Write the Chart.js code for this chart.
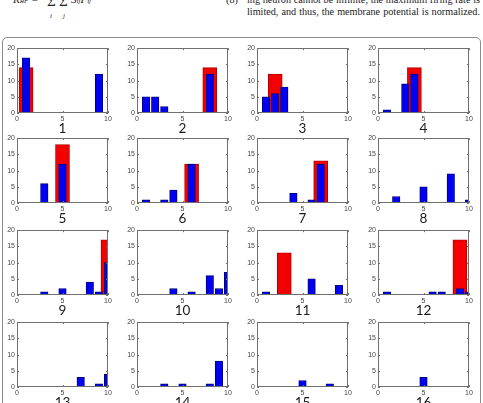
<!DOCTYPE html>
<html>
<head>
<meta charset="utf-8">
<script src="https://cdn.jsdelivr.net/npm/chart.js@4.4.0/dist/chart.umd.min.js"></script>
<style>
  body { margin:0; width:483px; height:403px; overflow:hidden; background:#fff; position:relative; }
  .txt { position:absolute; font-family:"Liberation Serif", serif; color:#222; white-space:nowrap; line-height:11px; }
  .col { position:absolute; left:247px; width:233px; font-family:"Liberation Serif", serif; font-size:10.2px; line-height:11px; color:#222; text-align:justify; text-align-last:justify; }
  .frame { position:absolute; left:2px; top:37px; width:477px; height:400px; border:1px solid #8c8c8c; border-radius:5px; }
  canvas { position:absolute; }
  .num { position:absolute; width:60px; text-align:center; font-family:Lato, sans-serif; font-size:13.5px; line-height:14px; color:#1a1a1a; }
</style>
</head>
<body>
<div class="txt" style="left:13px;top:-6px;font-size:11px;font-style:italic">R<span style="font-size:7px">RF</span> =</div>
<div class="txt" style="left:47px;top:-6px;font-size:15px;line-height:15px">&Sigma;</div>
<div class="txt" style="left:59px;top:-6px;font-size:15px;line-height:15px">&Sigma;</div>
<div class="txt" style="left:50px;top:11px;font-size:7px;font-style:italic">i</div>
<div class="txt" style="left:63px;top:11px;font-size:7px;font-style:italic">j</div>
<div class="txt" style="left:71px;top:-6px;font-size:11px;font-style:italic">S<span style="font-size:7px">ij</span>F<span style="font-size:7px">ij</span></div>
<div class="txt" style="left:226px;top:-6px;font-size:10.2px">(8)</div>
<div class="col" style="top:-6px">ing neuron cannot be infinite, the maximum firing rate is</div>
<div class="col" style="top:6px">limited, and thus, the membrane potential is normalized.</div>
<div class="frame"></div>
<div id="panels"></div>
<script>
// histogram bins shared by every panel
var bins = [1, 2, 3, 4, 5, 6, 7, 8, 9, 10];
var xTicks = [0, 5, 10];
var yTicks = [0, 5, 10, 15, 20];
var panelNames = ['1','2','3','4','5','6','7','8','9','10','11','12','13','14','15','16'];

// blue counts per bin (bins 1..10)
var blueCounts = [
  [17,0,0,0,0,0,0,0,12,0],
  [5,5,2,0,0,0,0,12,0,0],
  [5,6,8,0,0,0,0,0,0,0],
  [1,0,9,12,0,0,0,0,0,0],
  [0,0,6,0,12,0,0,0,0,0],
  [1,0,1,4,0,12,0,0,0,0],
  [0,0,0,3,0,1,12,0,0,0],
  [0,2,0,0,5,0,0,9,0,1],
  [0,0,1,0,2,0,0,4,1,10],
  [0,0,0,2,0,1,0,6,2,7],
  [1,0,0,0,0,5,0,0,3,0],
  [1,0,0,0,0,1,1,0,2,1],
  [0,0,0,0,0,0,3,0,1,4],
  [0,0,1,0,1,0,0,1,8,0],
  [0,0,0,0,2,0,0,1,0,0],
  [0,0,0,0,3,0,0,0,0,0]
];
// red counts per bin (bins 1..10)
var redCounts = [
  [14,0,0,0,0,0,0,0,0,0],
  [0,0,0,0,0,0,0,14,0,0],
  [0,12,0,0,0,0,0,0,0,0],
  [0,0,0,14,0,0,0,0,0,0],
  [0,0,0,0,18,0,0,0,0,0],
  [0,0,0,0,0,12,0,0,0,0],
  [0,0,0,0,0,0,13,0,0,0],
  [0,0,0,0,0,0,0,0,0,0],
  [0,0,0,0,0,0,0,0,0,17],
  [0,0,0,0,0,0,0,0,0,0],
  [0,0,13,0,0,0,0,0,0,0],
  [0,0,0,0,0,0,0,0,17,0],
  [0,0,0,0,0,0,0,0,0,0],
  [0,0,0,0,0,0,0,0,0,0],
  [0,0,0,0,0,0,0,0,0,0],
  [0,0,0,0,0,0,0,0,0,0]
];

var colLeft = [17, 137, 257, 378];
var rowTop = [47, 137, 229, 321];
var axW = 91, axH = 66;
var padL = 17, padT = 5, padR = 7, padB = 12;

function toPoints(counts) {
  var pts = [];
  bins.forEach(function (b, i) { if (counts[i] > 0) pts.push({ x: b, y: counts[i] }); });
  return pts;
}

// matlab style box with inward ticks
var boxPlugin = {
  id: 'box',
  afterDatasetsDraw: function (chart) {
    var a = chart.chartArea, ctx = chart.ctx;
    var xs = chart.scales.x, ys = chart.scales.y;
    ctx.save();
    ctx.strokeStyle = '#707070';
    ctx.lineWidth = 1;
    ctx.strokeRect(Math.round(a.left) + 0.5, Math.round(a.top) + 0.5, Math.round(a.right - a.left) - 1, Math.round(a.bottom - a.top) - 1);
    ctx.beginPath();
    yTicks.forEach(function (v) {
      var y = Math.round(ys.getPixelForValue(v)) + 0.5;
      ctx.moveTo(a.left, y); ctx.lineTo(a.left + 2, y);
      ctx.moveTo(a.right, y); ctx.lineTo(a.right - 2, y);
    });
    xTicks.forEach(function (v) {
      var x = Math.round(xs.getPixelForValue(v)) + 0.5;
      ctx.moveTo(x, a.bottom); ctx.lineTo(x, a.bottom - 2);
      ctx.moveTo(x, a.top); ctx.lineTo(x, a.top + 2);
    });
    ctx.stroke();
    ctx.restore();
  }
};

var holder = document.getElementById('panels');
panelNames.forEach(function (name, p) {
  var c = p % 4, r = Math.floor(p / 4);
  var cv = document.createElement('canvas');
  cv.width = padL + axW + padR;
  cv.height = padT + axH + padB;
  cv.style.left = (colLeft[c] - padL) + 'px';
  cv.style.top = (rowTop[r] - padT) + 'px';
  holder.appendChild(cv);

  var lab = document.createElement('div');
  lab.className = 'num';
  lab.textContent = name;
  lab.style.left = (colLeft[c] + axW / 2 - 30) + 'px';
  lab.style.top = (rowTop[r] + axH + 15.5 - 7.3) + 'px';
  holder.appendChild(lab);

  new Chart(cv.getContext('2d'), {
    type: 'bar',
    data: {
      datasets: [
        { data: toPoints(blueCounts[p]), backgroundColor: '#0000f5', borderColor: '#00007a', borderWidth: 1, borderSkipped: false, barThickness: 7.5, grouped: false, order: 0 },
        { data: toPoints(redCounts[p]), backgroundColor: '#f50000', borderColor: '#b00000', borderWidth: 1, borderSkipped: false, barThickness: 14, grouped: false, order: 1 }
      ]
    },
    options: {
      responsive: false,
      animation: false,
      layout: { padding: { top: padT, right: padR, left: 0, bottom: 0 } },
      plugins: { legend: { display: false }, tooltip: { enabled: false } },
      scales: {
        x: {
          type: 'linear', min: 0, max: 10, offset: false,
          grid: { display: false, offset: false, drawTicks: false },
          border: { display: false },
          ticks: { stepSize: 5, padding: 2, color: '#444', font: { size: 7, family: 'Liberation Sans' }, maxRotation: 0 },
          afterFit: function (s) { s.height = padB; }
        },
        y: {
          min: 0, max: 20,
          grid: { display: false, drawTicks: false },
          border: { display: false },
          ticks: { stepSize: 5, padding: 2, color: '#444', font: { size: 7, family: 'Liberation Sans' } },
          afterFit: function (s) { s.width = padL; }
        }
      }
    },
    plugins: [boxPlugin]
  });
});
</script>
</body>
</html>
